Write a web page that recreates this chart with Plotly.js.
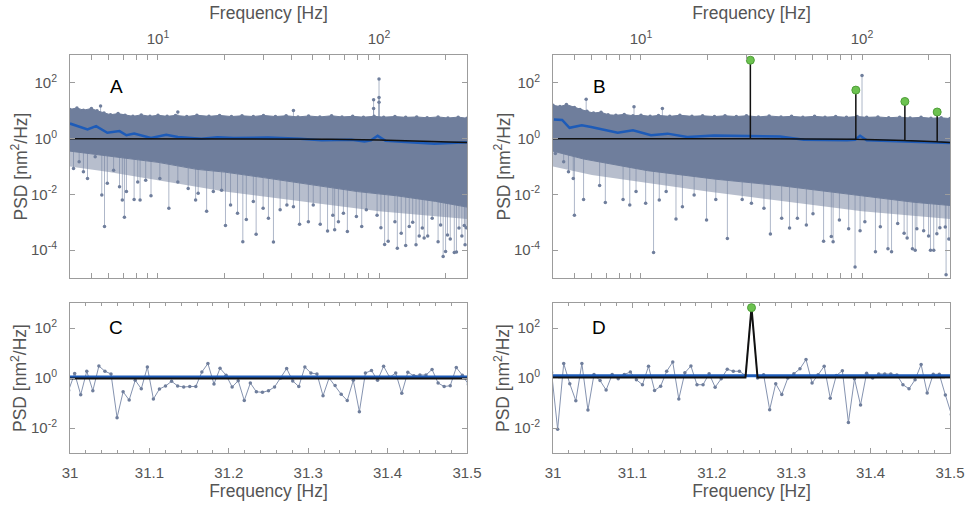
<!DOCTYPE html>
<html><head><meta charset="utf-8">
<script src="https://cdn.plot.ly/plotly-3.0.1.min.js"></script>
<style>html,body{margin:0;padding:0;background:#fff}#chart{width:967px;height:506px}</style>
</head><body><div id="chart"></div>
<script>
// ---------------- DATA ----------------
// Panel A – dense periodogram band (upper edge, solid lower edge, sparse fringe edge), Hz and nm^2/Hz
const aUpperFreq = [4,4.3,4.6,5.0,5.3,5.7,6.1,6.6,7.1,7.7,8.4,9.2,10,11,12,13.5,15,17,19,21.5,24,27,30,34,38,43,48,54,61,68,76,85,95,105,118,132,148,165,185,205,228,250];
const aUpperPsd  = [11.2,12.6,10.5,12.0,10.0,8.3,7.2,7.9,6.9,6.3,7.1,6.3,6.9,6.3,6.8,6.2,6.9,6.3,6.8,6.2,6.6,6.2,6.8,6.2,6.6,6.0,6.5,6.0,6.6,6.0,6.3,5.9,6.3,5.9,6.2,5.8,6.0,5.6,6.0,5.5,5.9,5.4];
const aLowerFreq = [4,5,6,8,10,15,20,30,50,80,120,180,250];
const aLowerPsd  = [0.355,0.28,0.24,0.178,0.141,0.079,0.063,0.040,0.0224,0.0126,0.0089,0.0056,0.0035];
const aFringeFreq = [4,6,10,20,50,100,250];
const aFringePsd  = [0.1,0.063,0.032,0.0126,0.005,0.0025,0.0013];
// Panel A – isolated deep bins (downward stems)
const aDipFreq = [4.15,4.4,4.6,4.8,5.2,5.57,5.73,5.9,6.3,6.7,6.9,7.05,7.2,7.8,8.1,8.3,8.8,9.3,10.2,11.2,12.3,13.7,14.8,15.2,16.6,17.8,19.4,20.2,21.3,22.9,24.2,25.1,27,27.8,29.9,31.6,33.3,35.7,38.3,41,43.7,47.9,50.4,54.2,58.5,61.8,63,65.5,69,71.9,79,83.5,87.6,98,102,106,110,118,121,126,132,137,142,147,152,157,160,166,174,185,190,195,200,204,210,219,224,230,237,243,245,248];
const aDipPsd  = [0.085,0.148,0.065,0.037,0.224,0.0095,0.00071,0.025,0.074,0.0186,0.0063,0.0015,0.0126,0.0066,0.028,0.0063,0.032,0.0089,0.037,0.0032,0.028,0.0162,0.0063,0.011,0.0025,0.0126,0.0141,0.00076,0.0042,0.0021,0.0002,0.00126,0.0055,0.00037,0.0032,0.0014,0.000195,0.0028,0.0042,0.0036,0.00085,0.00105,0.0042,0.00085,0.00049,0.0018,0.00054,0.00105,0.0021,0.00047,0.0016,0.00071,0.0028,0.0018,0.00063,0.00016,0.00021,0.00105,0.000117,0.0004,0.000148,0.00071,0.001,0.000155,0.00032,0.00062,0.00027,0.00032,0.0014,0.0002,0.0008,0.000059,0.000089,0.00035,0.00025,0.000083,0.000085,0.00062,0.00032,0.00076,0.000155,0.00063];
// Panel A – bins above the band
const aHighFreq = [5.5,12.3,41,94.5,94.5,100,100,100];
const aHighPsd  = [14.8,9.0,10.2,25,12,138,30,20];
// Panel A – smoothed spectrum (blue) and fitted background (black)
const aSmoothFreq = [4.0,4.5,4.8,5.25,5.9,6.7,7.2,7.8,9.3,10.9,12.3,15.7,18.6,22,31.5,44,55,75,86,92,98.6,107,150,178,250];
const aSmoothPsd  = [3.47,2.63,2.14,2.82,1.62,1.86,1.32,1.51,1.05,1.38,1.15,1.0,1.12,1.05,1.10,1.0,0.87,0.91,0.79,0.87,1.26,0.83,0.72,0.66,0.74];
const aFitFreq = [4,30,60,100,150,250];
const aFitPsd  = [1.0,0.99,0.95,0.9,0.82,0.72];

// Panel B
const bUpperFreq = [4,4.3,4.6,5.0,5.3,5.7,6.1,6.6,7.1,7.7,8.4,9.2,10,11,12,13.5,15,17,19,21.5,24,27,30,34,38,43,48,54,61,68,76,85,95,105,118,132,148,165,185,205,228,250];
const bUpperPsd  = [15.8,14.1,16.6,13.2,11.2,9.5,8.3,8.9,7.2,6.9,7.4,6.6,6.9,6.3,6.8,6.3,6.9,6.3,6.6,6.2,6.6,6.2,6.6,6.0,6.5,6.0,6.3,5.9,6.3,5.9,6.2,5.8,6.2,5.8,6.0,5.6,5.9,5.5,5.8,5.4,5.6,5.25];
const bLowerFreq = [4,5.5,10.7,21.8,43,86,172,250];
const bLowerPsd  = [0.355,0.186,0.071,0.035,0.0204,0.0105,0.0052,0.004];
const bFringeFreq = [4,6,10,20,50,100,250];
const bFringePsd  = [0.1,0.05,0.028,0.0126,0.005,0.0025,0.0013];
const bDipFreq = [4.1,4.47,4.7,4.94,5.0,5.5,6.5,6.9,8.3,8.9,9.5,10.5,11.4,12.1,13,14.4,15.4,17.4,19.8,21.8,24.6,28.7,31.6,36,38.5,43.3,47,51,56,60,67,72.6,74,79,87,93,98,103,115,121,131,136,145,155,160,169,174,177,190,200,204,211,218,225,238,240,247];
const bDipPsd  = [0.29,0.148,0.065,0.037,0.0018,0.0066,0.021,0.0051,0.0066,0.0042,0.0126,0.0048,0.000083,0.0063,0.0126,0.0013,0.0036,0.0095,0.0012,0.0066,0.00026,0.0066,0.0048,0.0032,0.00038,0.0014,0.00062,0.0014,0.0008,0.002,0.00021,0.00031,0.0002,0.0012,0.00058,0.000025,0.0005,0.00105,0.000087,0.00069,0.000112,0.000087,0.00091,0.0004,0.00027,0.000112,0.0001,0.00058,0.0005,0.00032,0.0001,0.000098,0.00039,0.00063,0.00068,0.000013,0.00025];
const bHighFreq = [5.65,9.3,12.5,100];
const bHighPsd  = [26,14,12,185];
const bSmoothFreq = [4.04,4.4,4.75,5.4,5.95,6.8,7.85,9.2,11.1,13.2,16.2,21.4,30.2,42.6,54.6,72,85.5,93,98,105,145,170,250];
const bSmoothPsd  = [4.9,4.68,2.45,3.02,2.63,2.14,1.62,2.0,1.32,1.51,1.15,1.29,1.26,1.2,0.91,0.87,0.87,0.91,1.26,0.87,0.79,0.74,0.69];
const bFitFreq = [4,31.25,31.25,31.25,93.75,93.75,93.75,156.25,156.25,156.25,218.75,218.75,218.75,250];
const bFitPsd  = [1.0,0.99,650,0.99,0.94,55,0.94,0.86,21.5,0.86,0.77,9,0.77,0.72];
const bPeakFreq = [31.25,93.75,156.25,218.75];
const bPeakPsd  = [650,55,21.5,9];

// Panels C and D – zoom 31-31.5 Hz, bins of 1000/131072 Hz starting at bin 4063
const zoomBinWidthHz = 1000/131072;
const zoomFirstBin = 4063;
const cPsd = [0.32,1.51,0.214,1.86,0.31,3.02,1.86,1.45,0.026,0.28,0.132,0.81,0.37,2.75,0.145,0.363,0.48,0.74,0.48,0.437,0.457,0.457,1.74,3.80,0.575,2.45,1.29,0.437,0.78,0.126,0.63,0.28,0.27,0.31,0.437,1.0,2.40,0.76,0.457,2.75,1.58,1.45,0.195,1.0,0.50,0.224,0.126,0.81,0.045,1.58,2.0,0.81,2.95,1.07,1.58,0.245,1.70,1.23,1.32,1.32,2.19,0.63,0.457,0.49,2.63,1.29,0.56];
const dPsd = [1.66,0.0089,3.80,0.59,0.123,3.80,0.052,1.38,0.79,0.33,1.38,0.93,1.38,1.74,0.85,0.54,2.95,0.316,0.47,1.86,4.37,0.145,1.62,3.02,0.54,0.54,1.48,0.43,0.93,2.24,1.86,1.86,1.26,650,1.0,1.35,0.054,0.59,0.22,1.0,1.48,2.34,5.5,0.63,1.35,2.95,0.155,1.26,1.95,0.0166,0.93,0.083,1.55,1.0,1.45,1.45,1.45,1.32,0.54,0.37,0.85,3.47,0.25,1.41,1.41,0.21,0.035];
const cSmoothFreq = [31,31.5], cSmoothPsd = [1.1,1.1];
const cFitFreq = [31,31.5],    cFitPsd = [0.95,0.95];
const dSmoothFreq = [31,31.5], dSmoothPsd = [1.23,1.23];
const dFitFreq = [31,31.2424,31.25,31.2576,31.5];
const dFitPsd  = [1.05,1.05,650,1.05,1.05];
const dPeakFreq = [31.25], dPeakPsd = [650];

// Axis ticks
const logFreqMajor = [10,100];
const logFreqMajorText = ['10<sup>1</sup>','10<sup>2</sup>'];
const logFreqMinor = [5,6,7,8,9,20,30,40,50,60,70,80,90,200];
const psdTopTicks = [1e-4,1e-2,1,1e2];
const psdTopTickText = ['10<sup>-4</sup>','10<sup>-2</sup>','10<sup>0</sup>','10<sup>2</sup>'];
const psdBotTicks = [1e-2,1,1e2];
const psdBotTickText = ['10<sup>-2</sup>','10<sup>0</sup>','10<sup>2</sup>'];
const zoomTicks = [31,31.1,31.2,31.3,31.4,31.5];
const zoomTickText = ['31','31.1','31.2','31.3','31.4','31.5'];
const zoomMinorStep = 0.02;

// ---------------- STYLE ----------------
const FONT = 'Liberation Sans, Arial, Helvetica, sans-serif';
const GREY = '#6f7e9c';
const FRINGE = 'rgba(111,126,156,0.5)';
const STEM = 'rgba(120,135,165,0.6)';
const BLUE = '#1d5bb8';
const BLACK = '#111111';
const GREEN = '#6cc24f';

const zoomFreq = cPsd.map((_, i) => (zoomFirstBin + i) * zoomBinWidthHz);

function stems(freq, psd, base) {
  const x = [], y = [];
  freq.forEach((f, i) => { x.push(f, f, null); y.push(base, psd[i], null); });
  return {x, y};
}

function topPanel(xa, ya, upF, upP, loF, loP, frF, frP, dipF, dipP, hiF, hiP, smF, smP, fitF, fitP) {
  const t = [];
  const ds = stems(dipF, dipP, 1);
  t.push({x: ds.x, y: ds.y, xaxis: xa, yaxis: ya, mode: 'lines', line: {color: STEM, width: 1}, hoverinfo: 'skip'});
  t.push({x: dipF, y: dipP, xaxis: xa, yaxis: ya, mode: 'markers', marker: {color: GREY, size: 3.5}, hoverinfo: 'skip'});
  const hs = stems(hiF, hiP, 1);
  t.push({x: hs.x, y: hs.y, xaxis: xa, yaxis: ya, mode: 'lines', line: {color: STEM, width: 1}, hoverinfo: 'skip'});
  t.push({x: hiF, y: hiP, xaxis: xa, yaxis: ya, mode: 'markers', marker: {color: GREY, size: 3.5}, hoverinfo: 'skip'});
  t.push({x: frF, y: frP, xaxis: xa, yaxis: ya, mode: 'lines', line: {color: 'rgba(0,0,0,0)', width: 0}, hoverinfo: 'skip'});
  t.push({x: loF, y: loP, xaxis: xa, yaxis: ya, mode: 'lines', fill: 'tonexty', fillcolor: FRINGE,
          line: {color: GREY, width: 1}, hoverinfo: 'skip'});
  t.push({x: upF, y: upP, xaxis: xa, yaxis: ya, mode: 'lines+markers', fill: 'tonexty', fillcolor: GREY,
          line: {color: GREY, width: 1}, marker: {color: GREY, size: 3.5}, hoverinfo: 'skip'});
  t.push({x: smF, y: smP, xaxis: xa, yaxis: ya, mode: 'lines', line: {color: BLUE, width: 2.5}, hoverinfo: 'skip'});
  t.push({x: fitF, y: fitP, xaxis: xa, yaxis: ya, mode: 'lines', line: {color: BLACK, width: 1.5}, hoverinfo: 'skip'});
  return t;
}

const traces = [];
traces.push(...topPanel('x','y', aUpperFreq,aUpperPsd,aLowerFreq,aLowerPsd,aFringeFreq,aFringePsd,aDipFreq,aDipPsd,aHighFreq,aHighPsd,aSmoothFreq,aSmoothPsd,aFitFreq,aFitPsd));
traces.push(...topPanel('x2','y2', bUpperFreq,bUpperPsd,bLowerFreq,bLowerPsd,bFringeFreq,bFringePsd,bDipFreq,bDipPsd,bHighFreq,bHighPsd,bSmoothFreq,bSmoothPsd,bFitFreq,bFitPsd));
traces.push({x: bPeakFreq, y: bPeakPsd, xaxis: 'x2', yaxis: 'y2', mode: 'markers',
  marker: {color: GREEN, size: 8, line: {color: '#4e9e38', width: 1}}, hoverinfo: 'skip'});

traces.push({x: zoomFreq, y: cPsd, xaxis: 'x3', yaxis: 'y3', mode: 'lines+markers',
  line: {color: '#8593b0', width: 1}, marker: {color: GREY, size: 3.5}, hoverinfo: 'skip'});
traces.push({x: cSmoothFreq, y: cSmoothPsd, xaxis: 'x3', yaxis: 'y3', mode: 'lines', line: {color: BLUE, width: 3}, hoverinfo: 'skip'});
traces.push({x: cFitFreq, y: cFitPsd, xaxis: 'x3', yaxis: 'y3', mode: 'lines', line: {color: BLACK, width: 2}, hoverinfo: 'skip'});
traces.push({x: zoomFreq, y: dPsd, xaxis: 'x4', yaxis: 'y4', mode: 'lines+markers',
  line: {color: '#8593b0', width: 1}, marker: {color: GREY, size: 3.5}, hoverinfo: 'skip'});
traces.push({x: dSmoothFreq, y: dSmoothPsd, xaxis: 'x4', yaxis: 'y4', mode: 'lines', line: {color: BLUE, width: 3}, hoverinfo: 'skip'});
traces.push({x: dFitFreq, y: dFitPsd, xaxis: 'x4', yaxis: 'y4', mode: 'lines', line: {color: BLACK, width: 2}, hoverinfo: 'skip'});
traces.push({x: dPeakFreq, y: dPeakPsd, xaxis: 'x4', yaxis: 'y4', mode: 'markers',
  marker: {color: GREEN, size: 8, line: {color: '#4e9e38', width: 1}}, hoverinfo: 'skip'});

const axBase = {
  showline: true, linecolor: '#9c9c9c', linewidth: 1, mirror: 'ticks',
  ticks: 'inside', ticklen: 5, tickwidth: 1, tickcolor: '#9c9c9c',
  showgrid: false, zeroline: false, automargin: false,
  tickfont: {family: FONT, size: 15, color: '#555555'}
};
const titleFont = {family: FONT, size: 17.5, color: '#555555'};

const W = 967, H = 506, mL = 70, mR = 17, mT = 55, mB = 53;
const pw = W - mL - mR, ph = H - mT - mB;
const dx = (a, b) => [(a - mL) / pw, (b - mL) / pw];
const dy = (top, bot) => [1 - (bot - mT) / ph, 1 - (top - mT) / ph];

const topX = (anchor, dom) => Object.assign({}, axBase, {
  type: 'log', range: [Math.log10(4), Math.log10(250)], domain: dom, anchor: anchor, side: 'top',
  tickmode: 'array', tickvals: logFreqMajor, ticktext: logFreqMajorText, ticklabelstandoff: 4,
  minor: {tickmode: 'array', tickvals: logFreqMinor, ticks: 'inside', ticklen: 5, tickcolor: '#9c9c9c', showgrid: false},
  title: {text: 'Frequency [Hz]', font: titleFont, standoff: 3}
});
const botX = (anchor, dom) => Object.assign({}, axBase, {
  type: 'linear', range: [31, 31.5], domain: dom, anchor: anchor,
  tickmode: 'array', tickvals: zoomTicks, ticktext: zoomTickText, ticklabelstandoff: 6,
  minor: {dtick: zoomMinorStep, ticks: 'inside', ticklen: 3, tickcolor: '#9c9c9c', showgrid: false},
  title: {text: 'Frequency [Hz]', font: titleFont, standoff: 4}
});
const psdY = (anchor, dom, rng, tv, tt) => Object.assign({}, axBase, {
  type: 'log', range: rng, domain: dom, anchor: anchor,
  tickmode: 'array', tickvals: tv, ticktext: tt, ticklabelstandoff: 9
});

const yTitle = (xref, yref) => ({text: 'PSD [nm<sup>2</sup>/Hz]', xref: xref, yref: yref,
  x: -51 / 397, y: 0.5, textangle: -90, showarrow: false, xanchor: 'center', yanchor: 'middle',
  font: titleFont});
const panelLabel = (t, xref, yref, y) => ({text: t, xref: xref, yref: yref, x: 0.116, y: y,
  showarrow: false, xanchor: 'center', yanchor: 'middle', font: {family: FONT, size: 19, color: '#000000'}});

const layout = {
  width: W, height: H, margin: {l: mL, r: mR, t: mT, b: mB},
  paper_bgcolor: '#ffffff', plot_bgcolor: '#ffffff', showlegend: false,
  font: {family: FONT, color: '#555555'},
  xaxis:  topX('y',  dx(70, 467)),
  xaxis2: topX('y2', dx(553, 950)),
  xaxis3: botX('y3', dx(70, 467)),
  xaxis4: botX('y4', dx(553, 950)),
  yaxis:  psdY('x',  dy(55, 278), [-5, 3], psdTopTicks, psdTopTickText),
  yaxis2: psdY('x2', dy(55, 278), [-5, 3], psdTopTicks, psdTopTickText),
  yaxis3: psdY('x3', dy(303, 453), [-3, 3], psdBotTicks, psdBotTickText),
  yaxis4: psdY('x4', dy(303, 453), [-3, 3], psdBotTicks, psdBotTickText),
  annotations: [
    yTitle('x domain', 'y domain'), yTitle('x2 domain', 'y2 domain'),
    yTitle('x3 domain', 'y3 domain'), yTitle('x4 domain', 'y4 domain'),
    panelLabel('A', 'x domain', 'y domain', 0.86), panelLabel('B', 'x2 domain', 'y2 domain', 0.86),
    panelLabel('C', 'x3 domain', 'y3 domain', 0.84), panelLabel('D', 'x4 domain', 'y4 domain', 0.84)
  ]
};

Plotly.newPlot('chart', traces, layout, {staticPlot: true, displayModeBar: false});
</script></body></html>
